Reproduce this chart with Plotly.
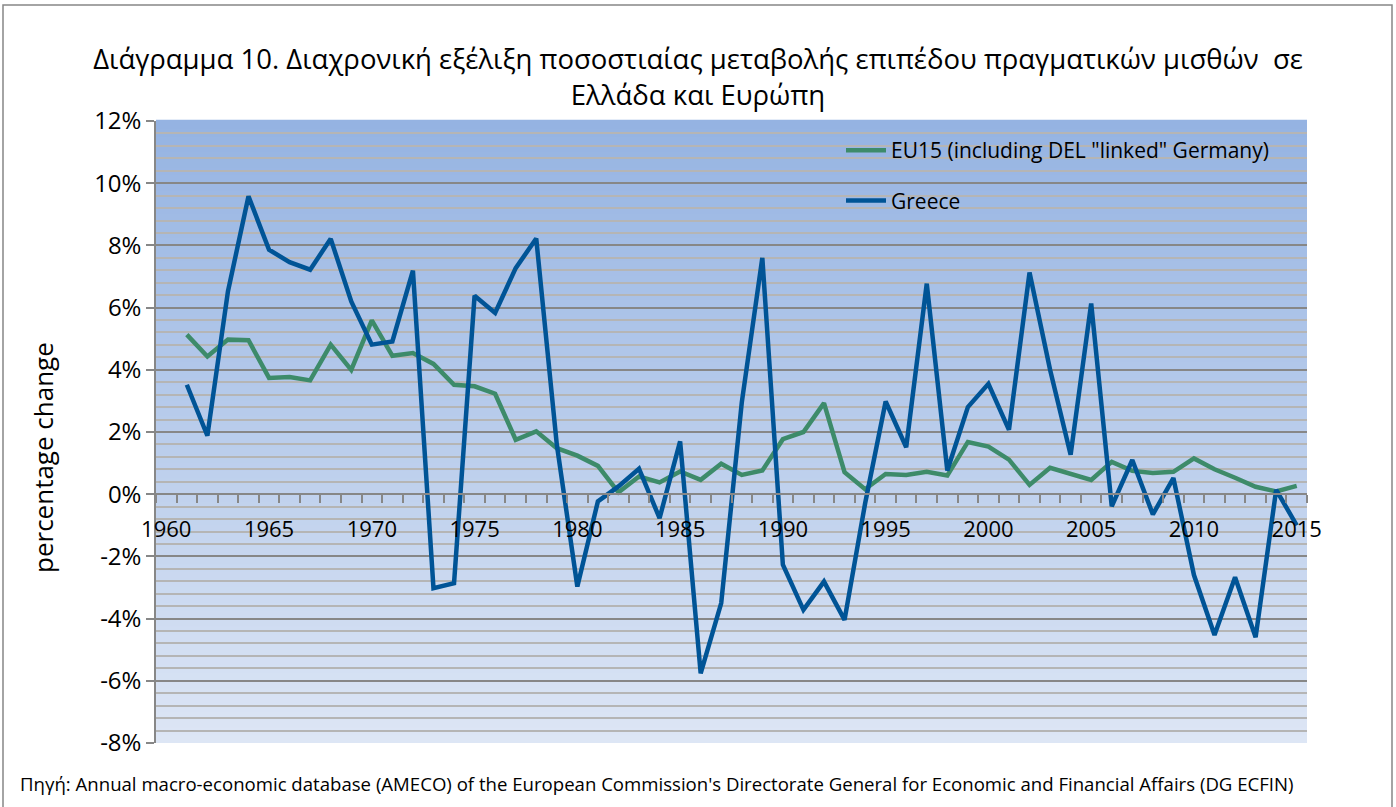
import plotly.graph_objects as go

# ---------------- data ----------------
years = list(range(1961, 2016))
greece = [3.52, 1.88, 6.52, 9.58, 7.86, 7.46, 7.22, 8.21, 6.20, 4.81,
          4.91, 7.19, -3.02, -2.86, 6.38, 5.83, 7.27, 8.22, 1.6, -2.97,
          -0.23, 0.25, 0.82, -0.77, 1.70, -5.76, -3.50, 2.95, 7.60, -2.27,
          -3.72, -2.81, -4.04, -0.3, 2.98, 1.51, 6.77, 0.76, 2.80, 3.55,
          2.07, 7.13, 4.0, 1.27, 6.13, -0.39, 1.1, -0.65, 0.52, -2.6,
          -4.53, -2.67, -4.6, 0.14, -1.0]
eu15 = [5.13, 4.43, 4.97, 4.95, 3.74, 3.77, 3.66, 4.81, 4.00, 5.59,
        4.45, 4.54, 4.19, 3.52, 3.47, 3.23, 1.75, 2.02, 1.48, 1.24,
        0.91, 0.06, 0.57, 0.38, 0.73, 0.46, 0.98, 0.62, 0.76, 1.77,
        2.00, 2.93, 0.71, 0.16, 0.65, 0.62, 0.72, 0.60, 1.68, 1.53,
        1.11, 0.30, 0.85, 0.65, 0.46, 1.04, 0.75, 0.68, 0.72, 1.15,
        0.80, 0.53, 0.24, 0.09, 0.27]
x_tickvals = [1960, 1965, 1970, 1975, 1980, 1985, 1990, 1995, 2000, 2005, 2010, 2015]
x_ticktext = [str(v) for v in x_tickvals]
y_tickvals = [-8, -6, -4, -2, 0, 2, 4, 6, 8, 10, 12]
y_ticktext = [f"{v}%" for v in y_tickvals]

title_text = ("Διάγραμμα 10. Διαχρονική εξέλιξη ποσοστιαίας μεταβολής επιπέδου πραγματικών μισθών  σε"
              "<br>Ελλάδα και Ευρώπη")
y_title_text = "percentage change"
source_text = ("Πηγή: Annual macro-economic database (AMECO) of the European Commission's "
               "Directorate General for Economic and Financial Affairs (DG ECFIN)")

# ---------------- layout geometry ----------------
W, H = 1396, 807
L, R, T, B = 156, 89, 121, 64
pw, ph = W - L - R, H - T - B

def px_x(p):
    return (p - L) / pw

def px_y(p):
    return (H - B - p) / ph

FONT = "Open Sans, Noto Sans, sans-serif"
GRID_MAJOR = "#878787"
GRID_MINOR = "#b5b5b5"

fig = go.Figure()
fig.add_trace(go.Scatter(x=years, y=eu15, mode="lines", name='EU15 (including DEL "linked" Germany)',
                         line=dict(color="#3d8b6a", width=4.5), legendgroup="a"))
fig.add_trace(go.Scatter(x=years, y=greece, mode="lines", name="Greece",
                         line=dict(color="#005496", width=4.5), legendgroup="b"))

# gradient background of plot area
top = (149, 179, 226)
bot = (221, 230, 245)
N = 80
shapes = []
for i in range(N):
    f = (i + 0.5) / N  # 0 bottom -> 1 top
    c = tuple(round(bot[k] + (top[k] - bot[k]) * f) for k in range(3))
    shapes.append(dict(type="rect", xref="paper", yref="paper", x0=0, x1=1,
                       y0=i / N, y1=(i + 1) / N + 0.002, layer="below",
                       fillcolor=f"rgb{c}", line=dict(width=0)))
# outer chart border
shapes.append(dict(type="rect", xref="paper", yref="paper",
                   x0=px_x(3), x1=px_x(1392), y0=px_y(812), y1=px_y(5),
                   layer="below", fillcolor="rgba(0,0,0,0)",
                   line=dict(color="#878787", width=1.5)))

fig.update_layout(
    width=W, height=H,
    margin=dict(l=L, r=R, t=T, b=B),
    paper_bgcolor="white",
    plot_bgcolor="rgba(0,0,0,0)",
    font=dict(family=FONT, color="black"),
    shapes=shapes,
    title=dict(text=title_text, x=0.5, xref="container", xanchor="center",
               y=1 - 69 / H, yref="container", yanchor="top",
               font=dict(size=27.5, family=FONT, color="black")),
    legend=dict(x=px_x(841), y=px_y(130), xanchor="left", yanchor="top",
                bgcolor="rgba(0,0,0,0)", font=dict(size=21, family=FONT),
                tracegroupgap=20, itemwidth=40),
    showlegend=True,
    annotations=[
        dict(text=source_text, xref="paper", yref="paper",
             x=px_x(18), y=px_y(783), xanchor="left", yanchor="middle",
             showarrow=False, font=dict(size=18.6, family=FONT)),
        dict(text=y_title_text, xref="paper", yref="paper", textangle=-90,
             x=px_x(43), y=px_y(458), xanchor="center", yanchor="middle",
             showarrow=False, font=dict(size=26, family=FONT)),
    ],
)

fig.update_xaxes(
    range=[1959.5, 2015.5],
    anchor="free", position=0.4,
    tickvals=x_tickvals, ticktext=x_ticktext,
    ticks="outside", ticklen=16, tickcolor="rgba(0,0,0,0)",
    tickfont=dict(size=22, family=FONT),
    showline=True, linecolor=GRID_MAJOR, linewidth=1.5,
    showgrid=False, zeroline=False,
    minor=dict(ticks="outside", tick0=1959.5, dtick=1, ticklen=8,
               tickcolor=GRID_MAJOR, tickwidth=1.5, showgrid=False),
)
fig.update_yaxes(
    range=[-8, 12],
    tickvals=y_tickvals, ticktext=y_ticktext,
    ticks="outside", ticklen=8, tickcolor=GRID_MAJOR, tickwidth=1.5,
    tickfont=dict(size=24, family=FONT),
    showline=True, linecolor=GRID_MAJOR, linewidth=1.5,
    showgrid=True, gridcolor=GRID_MAJOR, gridwidth=1.5,
    zeroline=False,
    minor=dict(dtick=0.4, tick0=0, showgrid=True, gridcolor=GRID_MINOR, gridwidth=1.5, ticks=""),
)

fig.write_html("out.html", config={"displayModeBar": False},
               post_script="document.body.style.margin='0';document.body.style.overflow='hidden';")
